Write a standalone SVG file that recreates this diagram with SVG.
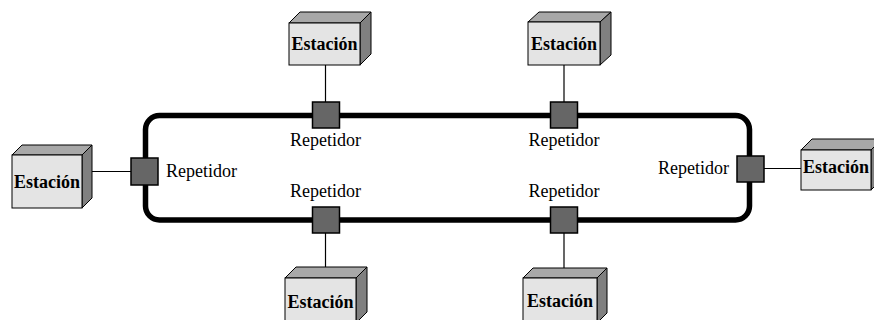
<svg xmlns="http://www.w3.org/2000/svg" width="874" height="320" viewBox="0 0 874 320">
  <style>
    .ring { fill: none; stroke: #000; stroke-width: 5.5; }
    .link { stroke: #000; stroke-width: 1.2; fill: none; }
    .rep { fill: #666; stroke: #000; stroke-width: 1.5; }
    .front { fill: #e4e4e4; stroke: #000; stroke-width: 1; }
    .top { fill: #a8a8a8; stroke: #000; stroke-width: 1; }
    .side { fill: #808080; stroke: #000; stroke-width: 1; }
    .st { font-family: "Liberation Serif", "Times New Roman", serif; font-weight: bold; font-size: 18px; fill: #000; text-anchor: middle; }
    .lbl { font-family: "Liberation Serif", "Times New Roman", serif; font-size: 18px; fill: #000; }
  </style>
  <rect width="874" height="320" fill="#fff"/>

  <!-- ring and station links -->
  <g id="connectors">
    <rect class="ring" x="145.5" y="115.5" width="604" height="104.5" rx="14" ry="14"/>
    <line class="link" x1="325.5" y1="65" x2="325.5" y2="102"/>
    <line class="link" x1="564" y1="65" x2="564" y2="102"/>
    <line class="link" x1="325.5" y1="233" x2="325.5" y2="272"/>
    <line class="link" x1="564" y1="233" x2="564" y2="273"/>
    <line class="link" x1="87" y1="171.5" x2="131" y2="171.5"/>
    <line class="link" x1="764" y1="168.5" x2="801" y2="168.5"/>
  </g>

  <!-- repeaters -->
  <g id="rep-top-left">
    <rect class="rep" x="312.5" y="102" width="27" height="26"/>
    <text class="lbl" x="325.5" y="146" text-anchor="middle">Repetidor</text>
  </g>
  <g id="rep-top-right">
    <rect class="rep" x="550.5" y="102" width="27" height="26"/>
    <text class="lbl" x="564" y="146" text-anchor="middle">Repetidor</text>
  </g>
  <g id="rep-bottom-left">
    <rect class="rep" x="312.5" y="207" width="27" height="26"/>
    <text class="lbl" x="325.5" y="197" text-anchor="middle">Repetidor</text>
  </g>
  <g id="rep-bottom-right">
    <rect class="rep" x="550.5" y="207" width="27" height="26"/>
    <text class="lbl" x="564" y="197" text-anchor="middle">Repetidor</text>
  </g>
  <g id="rep-left">
    <rect class="rep" x="131" y="158" width="27" height="27"/>
    <text class="lbl" x="166" y="177">Repetidor</text>
  </g>
  <g id="rep-right">
    <rect class="rep" x="737" y="156" width="27" height="26"/>
    <text class="lbl" x="729" y="174" text-anchor="end">Repetidor</text>
  </g>

  <!-- stations -->
  <g id="station-top-left">
    <polygon class="top" points="289,23 300,12 371,12 360,23"/>
    <polygon class="side" points="360,23 371,12 371,54 360,65"/>
    <rect class="front" x="289" y="23" width="71" height="42"/>
    <text class="st" x="324.5" y="50">Estación</text>
  </g>
  <g id="station-top-right">
    <polygon class="top" points="528,22 539,12 611,12 600,22"/>
    <polygon class="side" points="600,22 611,12 611,55 600,65"/>
    <rect class="front" x="528" y="22" width="72" height="43"/>
    <text class="st" x="564" y="50">Estación</text>
  </g>
  <g id="station-left">
    <polygon class="top" points="12,155 22,145 92,145 82,155"/>
    <polygon class="side" points="82,155 92,145 92,198 82,208"/>
    <rect class="front" x="12" y="155" width="70" height="53"/>
    <text class="st" x="47" y="188">Estación</text>
  </g>
  <g id="station-right">
    <polygon class="top" points="801,150 812,139 882,139 871,150"/>
    <polygon class="side" points="871,150 882,139 882,179 871,190"/>
    <rect class="front" x="801" y="150" width="70" height="40"/>
    <text class="st" x="836" y="173">Estación</text>
  </g>
  <g id="station-bottom-left">
    <polygon class="top" points="285,278 296,267 367,267 356,278"/>
    <polygon class="side" points="356,278 367,267 367,312 356,323"/>
    <rect class="front" x="285" y="278" width="71" height="45"/>
    <text class="st" x="320.5" y="308">Estación</text>
  </g>
  <g id="station-bottom-right">
    <polygon class="top" points="523,278 533,268 607,268 597,278"/>
    <polygon class="side" points="597,278 607,268 607,313 597,323"/>
    <rect class="front" x="523" y="278" width="74" height="45"/>
    <text class="st" x="560" y="307">Estación</text>
  </g>
</svg>
